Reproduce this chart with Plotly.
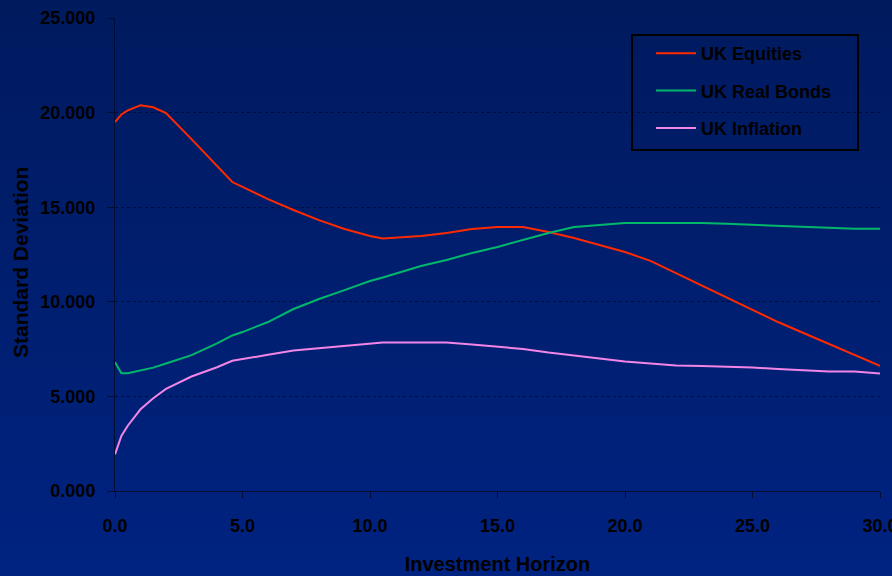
import base64
import plotly.graph_objects as go

# Investment horizon (years)
horizon = [0, 0.25, 0.5, 1, 1.5, 2, 3, 4, 4.6, 5, 6, 7, 8, 9, 10, 10.5, 11, 12, 13, 14,
           15, 16, 17, 18, 19, 20, 21, 22, 23, 24, 25, 26, 27, 28, 29, 30]

# Standard deviation of annualised returns (%)
sd_equities = [19.50, 19.90, 20.12, 20.39, 20.28, 19.98, 18.60, 17.18, 16.33, 16.07,
               15.43, 14.85, 14.32, 13.85, 13.48, 13.35, 13.39, 13.48, 13.64, 13.85,
               13.95, 13.95, 13.69, 13.37, 13.00, 12.63, 12.16, 11.52, 10.84, 10.20,
               9.57, 8.93, 8.35, 7.77, 7.19, 6.61]
sd_real_bonds = [6.80, 6.22, 6.22, 6.35, 6.52, 6.74, 7.18, 7.80, 8.22, 8.40,
                 8.93, 9.62, 10.15, 10.62, 11.10, 11.28, 11.47, 11.89, 12.21, 12.58,
                 12.90, 13.27, 13.64, 13.95, 14.06, 14.16, 14.17, 14.17, 14.17, 14.12,
                 14.07, 14.02, 13.98, 13.93, 13.86, 13.86]
sd_inflation = [1.94, 2.91, 3.45, 4.32, 4.90, 5.40, 6.05, 6.54, 6.88, 6.98,
                7.20, 7.43, 7.56, 7.66, 7.82, 7.85, 7.85, 7.85, 7.85, 7.74,
                7.64, 7.51, 7.32, 7.16, 7.00, 6.84, 6.74, 6.63, 6.61, 6.58,
                6.53, 6.45, 6.37, 6.32, 6.32, 6.21]

series_names = ["UK Equities", "UK Real Bonds", "UK Inflation"]
series_colors = ["#ff2a00", "#00b86b", "#f285e6"]

x_ticks = [0, 5, 10, 15, 20, 25, 30]
x_tick_text = ["0.0", "5.0", "10.0", "15.0", "20.0", "25.0", "30.0"]
y_ticks = [0, 5, 10, 15, 20, 25]
y_tick_text = ["0.000", "5.000", "10.000", "15.000", "20.000", "25.000"]

W, H = 892, 576
M = dict(l=115, r=12, t=18, b=85)
pw = W - M["l"] - M["r"]
ph = H - M["t"] - M["b"]


def px_x(p):
    """page pixel column -> paper x"""
    return (p - M["l"]) / pw


def px_y(p):
    """page pixel row -> paper y"""
    return (H - M["b"] - p) / ph


# vertical navy gradient for the whole page
svg = (
    f'<svg xmlns="http://www.w3.org/2000/svg" width="{W}" height="{H}" preserveAspectRatio="none">'
    '<defs><linearGradient id="g" x1="0" y1="0" x2="0" y2="1">'
    '<stop offset="0" stop-color="#001a5e"/><stop offset="1" stop-color="#002381"/>'
    '</linearGradient></defs>'
    f'<rect width="{W}" height="{H}" fill="url(#g)"/></svg>'
)
bg_src = "data:image/svg+xml;base64," + base64.b64encode(svg.encode()).decode()

FONT = "Liberation Sans"
txt = dict(family=FONT, size=18, color="black", weight="bold")

fig = go.Figure()
for i, (name, ys) in enumerate(zip(series_names, [sd_equities, sd_real_bonds, sd_inflation])):
    fig.add_trace(go.Scatter(
        x=horizon, y=ys, mode="lines", name=name,
        line=dict(color=series_colors[i], width=2),
        legendgroup=name,
    ))

axis_col = "#000c33"
fig.update_layout(
    width=W, height=H, margin=M,
    paper_bgcolor="#001f70", plot_bgcolor="rgba(0,0,0,0)",
    font=txt,
    images=[dict(
        source=bg_src, xref="paper", yref="paper",
        x=-M["l"] / pw, y=1 + M["t"] / ph, sizex=W / pw, sizey=H / ph,
        xanchor="left", yanchor="top", sizing="stretch", layer="below",
    )],
    xaxis=dict(
        range=[0, 30], tickvals=x_ticks, ticktext=x_tick_text,
        automargin=False, ticklabeloverflow="allow",
        showgrid=False, zeroline=False,
        showline=True, linecolor=axis_col, linewidth=1,
        ticks="outside", ticklen=6, tickcolor=axis_col,
        ticklabelstandoff=12,
        tickfont=txt,
        title=dict(text="Investment Horizon", font=dict(txt, size=20), standoff=22),
    ),
    yaxis=dict(
        range=[0, 25], tickvals=y_ticks, ticktext=y_tick_text,
        automargin=False,
        showgrid=True, gridcolor=axis_col, griddash="dot", gridwidth=1,
        zeroline=False,
        showline=True, linecolor=axis_col, linewidth=1,
        ticks="outside", ticklen=7, tickcolor=axis_col,
        ticklabelstandoff=8,
        tickfont=txt,
    ),
    annotations=[dict(
        text="Standard Deviation", textangle=-90,
        xref="paper", yref="paper", x=px_x(20), y=px_y(263),
        xanchor="center", yanchor="middle", showarrow=False,
        font=dict(txt, size=21),
    )],
    showlegend=True,
    legend=dict(
        x=px_x(651), y=px_y(35),
        xanchor="left", yanchor="top",
        bgcolor="rgba(0,0,0,0)", borderwidth=0,
        font=txt, tracegroupgap=11, itemwidth=40,
    ),
    shapes=[dict(
        type="rect", xref="paper", yref="paper",
        x0=px_x(632), x1=px_x(858), y0=px_y(35), y1=px_y(150),
        line=dict(color="black", width=2), fillcolor="rgba(0,0,0,0)",
    )],
)

fig.write_html("out.html")
